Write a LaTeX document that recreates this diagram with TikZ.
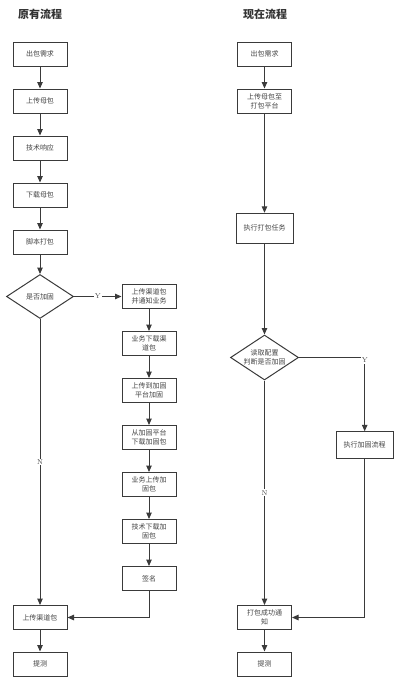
\documentclass[tikz,border=0pt]{standalone}
\usepackage{fontspec}
\newfontfamily\cjk{Noto Sans CJK SC}
\usetikzlibrary{shapes.geometric, arrows.meta, positioning}
\definecolor{linegray}{HTML}{3A3A3A}
\definecolor{textgray}{HTML}{444444}

\begin{document}
\begin{tikzpicture}[
    x=1pt, y=-1pt,
    %% -- Node styles ------------------------------------------------------
    %%
    %% stepbox: plain rectangle of the flow
    stepbox/.style={
        draw=linegray,
        line width=1pt,
        minimum width=54pt,
        minimum height=24pt,
        inner sep=1pt,
        align=center,
        text=textgray,
        font=\cjk\fontsize{7}{9.3}\selectfont,
        fill=white,
    },
    %% decision: the question diamond
    decision/.style={
        draw=linegray,
        line width=1pt,
        shape=diamond,
        aspect=1.5,
        inner sep=0pt,
        align=center,
        text=textgray,
        font=\cjk\fontsize{7}{9.3}\selectfont,
    },
    %% -- Base directed edge style ------------------------------------------
    flow/.style={
        -{Triangle[length=6.5pt, width=5.5pt]},
        line width=1pt,
        color=linegray,
    },
    %% -- Edge label style -------------------------------------------------
    elabel/.style={font=\fontsize{7}{8}\selectfont, text=textgray, inner sep=1pt, fill=white},
    heading/.style={font=\cjk\bfseries\fontsize{11}{12}\selectfont, text=black!80},
]
\useasboundingbox (0,0) rectangle (399,688);

%% -- Titles ---------------------------------------------------------------

\node[heading] (oldtitle) at (40,14) {原有流程};
\node[heading] (newtitle) at (265,14) {现在流程};

%% -- Old flow: main column ------------------------------------------------

\node[stepbox]                       (o_need)   at (40,54) {出包需求};
\node[stepbox, below=22pt of o_need]   (o_upload) {上传母包};
\node[stepbox, below=22pt of o_upload] (o_tech)   {技术响应};
\node[stepbox, below=22pt of o_tech]   (o_down)   {下载母包};
\node[stepbox, below=22pt of o_down]   (o_script) {脚本打包};
\node[decision, minimum width=67pt, minimum height=44pt, below=19.5pt of o_script] (o_ask) {是否加固};

%% -- Old flow: hardening branch -------------------------------------------

\node[stepbox, right=47.5pt of o_ask]  (o_chan)   {上传渠道包\\并通知业务};
\node[stepbox, below=22pt of o_chan]   (o_biz)    {业务下载渠\\道包};
\node[stepbox, below=22pt of o_biz]    (o_plat)   {上传到加固\\平台加固};
\node[stepbox, below=22pt of o_plat]   (o_fetch)  {从加固平台\\下载加固包};
\node[stepbox, below=22pt of o_fetch]  (o_bizup)  {业务上传加\\固包};
\node[stepbox, below=22pt of o_bizup]  (o_techdn) {技术下载加\\固包};
\node[stepbox, below=22pt of o_techdn] (o_sign)   {签名};

\node[stepbox] (o_final) at (40,617.5) {上传渠道包};
\node[stepbox, below=21.5pt of o_final] (o_test) {提测};

%% -- New flow -------------------------------------------------------------

\node[stepbox]                          (n_need)   at (264.5,54) {出包需求};
\node[stepbox, below=22pt of n_need]    (n_upload) {上传母包至\\打包平台};
\node[stepbox, minimum width=57pt, minimum height=30pt] (n_task) at (264.5,228.3) {执行打包任务};
\node[decision, minimum width=68pt, minimum height=45pt] (n_ask) at (264.5,357.5) {读取配置\\判断是否加固};
\node[stepbox, minimum width=57pt, minimum height=27pt] (n_harden) at (364.7,445.3) {执行加固流程};
\node[stepbox] (n_done) at (264.5,617.5) {打包成功通\\知};
\node[stepbox, below=21.5pt of n_done] (n_test) {提测};

%% -- Draw edges here ------------------------------------------------------

%% old flow
\draw[flow] (o_need) -- (o_upload);
\draw[flow] (o_upload) -- (o_tech);
\draw[flow] (o_tech) -- (o_down);
\draw[flow] (o_down) -- (o_script);
\draw[flow] (o_script) -- (o_ask);
\draw[flow] (o_ask) -- node[elabel] {Y} (o_chan);
\draw[flow] (o_ask) -- node[elabel, pos=0.5] {N} (o_final);
\draw[flow] (o_chan) -- (o_biz);
\draw[flow] (o_biz) -- (o_plat);
\draw[flow] (o_plat) -- (o_fetch);
\draw[flow] (o_fetch) -- (o_bizup);
\draw[flow] (o_bizup) -- (o_techdn);
\draw[flow] (o_techdn) -- (o_sign);
\draw[flow] (o_sign) |- (o_final);
\draw[flow] (o_final) -- (o_test);

%% new flow
\draw[flow] (n_need) -- (n_upload);
\draw[flow] (n_upload) -- (n_task);
\draw[flow] (n_task) -- (n_ask);
\draw[flow] (n_ask) -| node[elabel, pos=0.52] {Y} (n_harden);
\draw[flow] (n_ask) -- node[elabel, pos=0.5] {N} (n_done);
\draw[flow] (n_harden) |- (n_done);
\draw[flow] (n_done) -- (n_test);

\end{tikzpicture}
\end{document}
